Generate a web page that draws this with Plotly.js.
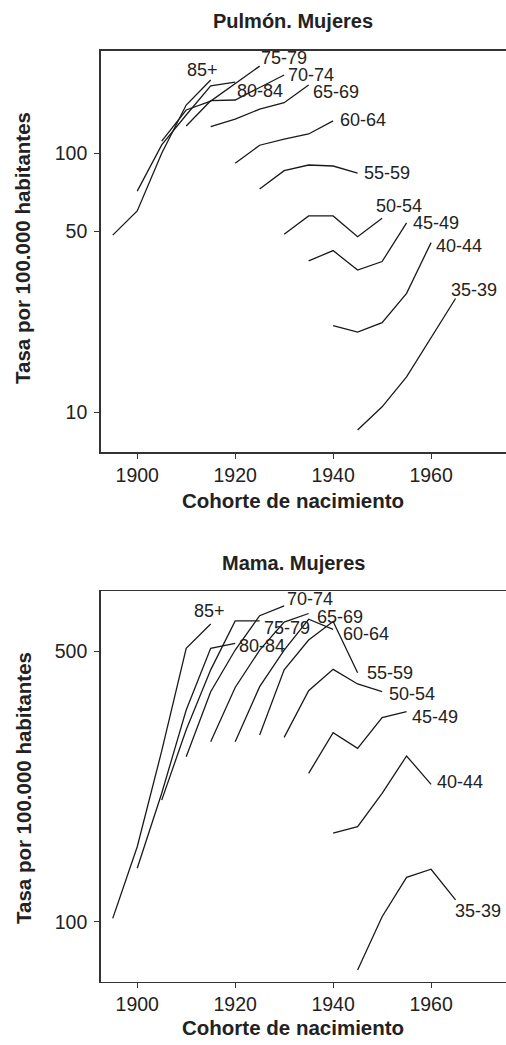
<!DOCTYPE html>
<html><head><meta charset="utf-8">
<script src="https://cdn.plot.ly/plotly-3.0.1.min.js"></script>
<style>html,body{margin:0;padding:0;background:#fff}#chart{width:506px;height:1045px}</style>
</head><body><div id="chart"></div>
<script>
// ---- categories ----
const ageGroups = ['35-39','40-44','45-49','50-54','55-59','60-64','65-69','70-74','75-79','80-84','85+'];
const cohorts3539 = [1945,1950,1955,1960,1965];
const cohorts4044 = [1940,1945,1950,1955,1960];
const cohorts4549 = [1935,1940,1945,1950,1955];
const cohorts5054 = [1930,1935,1940,1945,1950];
const cohorts5559 = [1925,1930,1935,1940,1945];
const cohorts6064 = [1920,1925,1930,1935,1940];
const cohorts6569 = [1915,1920,1925,1930,1935];
const cohorts7074 = [1910,1915,1920,1925,1930];
const cohorts7579 = [1905,1910,1915,1920,1925];
const cohorts8084 = [1900,1905,1910,1915,1920];
const cohorts85   = [1895,1900,1905,1910,1915];

// ---- Pulmón. Mujeres (tasa por 100.000) ----
const lung3539 = [8.55, 10.5, 13.7, 19.4, 27.5];
const lung4044 = [21.6, 20.4, 22.2, 28.8, 45.2];
const lung4549 = [38.4, 42.1, 35.4, 38.2, 53.9];
const lung5054 = [48.7, 57.3, 57.3, 47.6, 56.1];
const lung5559 = [72.8, 85.7, 90.1, 89.3, 83.9];
const lung6064 = [91.5, 107.4, 113.3, 118.7, 133.3];
const lung6569 = [126.7, 135.5, 148, 156.7, 183.6];
const lung7074 = [127.5, 159.6, 160.6, 179.5, 200.6];
const lung7579 = [111.5, 146.9, 159, 186, 217];
const lung8084 = [71.4, 107.7, 140.5, 182, 188.4];
const lung85   = [48.3, 59.9, 100, 153.5, 191.8];

// ---- Mama. Mujeres (tasa por 100.000) ----
const breast3539 = [75.0, 103.0, 130.2, 136.6, 113.8];
const breast4044 = [169.2, 175.9, 214.6, 267.9, 226.3];
const breast4549 = [241.6, 307.6, 280.4, 336.4, 348.6];
const breast5054 = [299.3, 394.9, 448.4, 411.1, 392.6];
const breast5559 = [303.4, 447, 534, 596, 439.5];
const breast6064 = [291.6, 404.5, 503, 604, 569];
const breast6569 = [291.6, 402.5, 503, 594, 625];
const breast7074 = [266.7, 392.6, 503, 617, 654];
const breast7579 = [206, 313, 447, 598, 598];
const breast8084 = [137.4, 214.6, 352, 508, 523.5];
const breast85   = [102.0, 156.2, 276, 508, 587];

// ---- tick labels ----
const xTicks = [1900, 1920, 1940, 1960];
const lungYTicks = [10, 50, 100];
const breastYTicks = [100, 500];

const cohortList = [cohorts3539,cohorts4044,cohorts4549,cohorts5054,cohorts5559,cohorts6064,cohorts6569,cohorts7074,cohorts7579,cohorts8084,cohorts85];
const lungList = [lung3539,lung4044,lung4549,lung5054,lung5559,lung6064,lung6569,lung7074,lung7579,lung8084,lung85];
const breastList = [breast3539,breast4044,breast4549,breast5054,breast5559,breast6064,breast6569,breast7074,breast7579,breast8084,breast85];

// label offsets (pixels) relative to each curve's last point
const lungLabelShift = [[-7,9],[3,-3],[4,0],[-8,12],[4,0],[5,1],[2,-7],[2,0],[-1,8],[0,-9],[-26,10]];
const breastLabelShift = [[-3,-11],[4,2],[3,-5],[5,-2],[7,0],[8,-5],[6,-3],[1,7],[2,-7],[2,-3],[-19,13]];

const FONT = 'Liberation Sans, Arial, Helvetica, sans-serif';
const lineStyle = {color:'#1a1a1a', width:1.3};

const traces = [];
const annotations = [];
function addPanel(valsList, shifts, xa, ya){
  valsList.forEach((vals, i) => {
    const xs = cohortList[i];
    traces.push({x: xs, y: vals, mode:'lines', line: lineStyle, xaxis: xa, yaxis: ya,
      hoverinfo:'x+y+name', name: ageGroups[i], showlegend:false});
    annotations.push({x: xs[xs.length-1], y: Math.log10(vals[vals.length-1]),
      xref: xa, yref: ya, text: ageGroups[i], showarrow:false,
      xanchor:'left', yanchor:'middle', xshift: shifts[i][0], yshift: shifts[i][1],
      font:{family:FONT, size:18, color:'#222'}});
  });
}
addPanel(lungList, lungLabelShift, 'x', 'y');
addPanel(breastList, breastLabelShift, 'x2', 'y2');

const H = 1045, W = 506;
const titleFont = {family:FONT, size:20, color:'#222'};
const axTitleFont = {family:FONT, size:20.5, color:'#222'};
function paperText(text, px, py, font, angle){
  return {text:'<b>'+text+'</b>', x:px/W, y:1-py/H, xref:'paper', yref:'paper',
    showarrow:false, xanchor:'center', yanchor:'middle', font:font, textangle: angle||0};
}
annotations.push(paperText('Pulmón. Mujeres', 293, 21, titleFont));
annotations.push(paperText('Cohorte de nacimiento', 293, 500, axTitleFont));
annotations.push(paperText('Tasa por 100.000 habitantes', 23, 248, axTitleFont, -90));
annotations.push(paperText('Mama. Mujeres', 293, 563, titleFont));
annotations.push(paperText('Cohorte de nacimiento', 293, 1027, axTitleFont));
annotations.push(paperText('Tasa por 100.000 habitantes', 23, 788, axTitleFont, -90));

const tickFont = {family:FONT, size:19.5, color:'#222'};
const xBase = {range:[1892.5,1975.3], tickvals:xTicks, ticktext:xTicks.map(String), ticks:'outside',
  ticklen:5, tickwidth:1, tickcolor:'#333', showline:true, mirror:true, linecolor:'#333', linewidth:1.3,
  showgrid:false, zeroline:false, tickfont:tickFont, fixedrange:true};
const yBase = {type:'log', ticks:'outside', ticklen:5, tickwidth:1, tickcolor:'#333', showline:true,
  mirror:false, linecolor:'#333', linewidth:1.3, showgrid:false, zeroline:false, tickfont:tickFont,
  ticklabelstandoff:3};

const layout = {
  width:W, height:H, margin:{l:0,r:0,t:0,b:0}, paper_bgcolor:'#fff', plot_bgcolor:'#fff',
  showlegend:false,
  xaxis: Object.assign({}, xBase, {domain:[100.5/W, 1], anchor:'y'}),
  yaxis: Object.assign({}, yBase, {domain:[1-452.3/H, 1-50.7/H], anchor:'x', range:[0.8456, 2.396],
    tickvals:lungYTicks, ticktext:lungYTicks.map(String)}),
  xaxis2: Object.assign({}, xBase, {domain:[100.5/W, 1], anchor:'y2'}),
  yaxis2: Object.assign({}, yBase, {domain:[1-981.7/H, 1-591/H], anchor:'x2', range:[1.845, 2.854],
    tickvals:breastYTicks, ticktext:breastYTicks.map(String)}),
  annotations: annotations
};
Plotly.newPlot('chart', traces, layout, {displayModeBar:false, staticPlot:true});
</script></body></html>
